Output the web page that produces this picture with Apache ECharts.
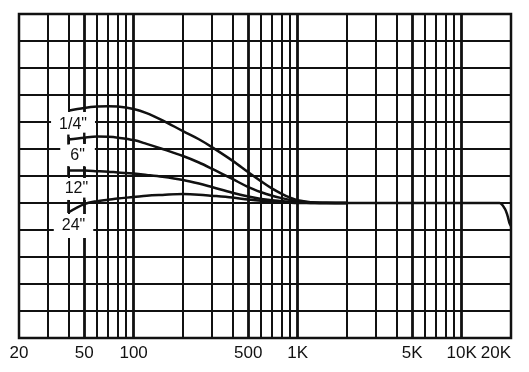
<!DOCTYPE html>
<html>
<head>
<meta charset="utf-8">
<script src="https://cdn.jsdelivr.net/npm/echarts@6/dist/echarts.min.js"></script>
<style>html,body{margin:0;padding:0;background:#fff}#c{width:529px;height:372px}</style>
</head>
<body>
<div id="c"></div>
<script>
// Frequencies (Hz) for the four curves
const freqHz = [40, 50, 60, 70, 80, 100, 120, 150, 200, 250, 300, 400, 500, 600, 700, 800, 900, 1000, 1200, 1500, 2000];
const quarterInch = [3.42, 3.52, 3.57, 3.58, 3.57, 3.48, 3.33, 3.06, 2.66, 2.36, 2.07, 1.57, 1.14, 0.80, 0.53, 0.34, 0.20, 0.10, 0.03, 0.01, 0];
const sixInch = [2.35, 2.42, 2.46, 2.45, 2.42, 2.33, 2.19, 2.00, 1.74, 1.50, 1.27, 0.89, 0.59, 0.40, 0.27, 0.18, 0.11, 0.06, 0.02, 0, 0];
const twelveInch = [1.20, 1.20, 1.18, 1.16, 1.13, 1.09, 1.04, 0.97, 0.85, 0.72, 0.59, 0.38, 0.24, 0.15, 0.10, 0.07, 0.04, 0.02, 0, 0, 0];
const twentyFourInch = [-0.35, -0.04, 0.07, 0.12, 0.17, 0.22, 0.27, 0.30, 0.33, 0.31, 0.27, 0.20, 0.13, 0.08, 0.05, 0.03, 0.01, 0, 0, 0, 0];
// Common flat part above 2 kHz
const flatFreqHz = [2000, 5000, 10000, 15000, 17000, 18300, 19000, 19600, 20000];
const flatValues = [0, 0, 0, 0, 0, -0.2, -0.45, -0.75, -0.85];
// Curve labels
const curveNames = ['1/4"', '6"', '12"', '24"'];
// Axis labels
const tickValues = [20, 50, 100, 500, 1000, 5000, 10000, 20000];
const tickLabels = ['20', '50', '100', '500', '1K', '5K', '10K', '20K'];
// Vertical grid frequencies
const gridFreqs = [30, 40, 50, 60, 70, 80, 90, 100, 200, 300, 400, 500, 600, 700, 800, 900, 1000, 2000, 3000, 4000, 5000, 6000, 7000, 8000, 9000, 10000];

const INK = '#111';
const FONT = 'Liberation Sans';

function curve(values, tickIdx, tickOffsets) {
  return freqHz.map((f, i) => {
    const item = { value: [f, values[i]] };
    const k = tickIdx.indexOf(i);
    if (k >= 0) {
      item.symbol = 'rect';
      item.symbolSize = [2.4, tickOffsets[k][0]];
      item.symbolOffset = [0, tickOffsets[k][1]];
    } else {
      item.symbol = 'none';
    }
    return item;
  });
}

const lineSeries = (data) => ({
  type: 'line', data, z: 5, smooth: 0.35, symbol: 'none',
  lineStyle: { color: INK, width: 2.5 },
  itemStyle: { color: INK },
  emphasis: { disabled: true }, silent: true, animation: false
});

const labelPos = [[42.7, 2.907, [4, 8, 4, 8]], [45.5, 1.759, [3, 10, 3, 10]], [44.8, 0.519, [3, 4, 2, 4]], [43.0, -0.852, [4, 8, 3, 8]]];

const option = {
  animation: false,
  backgroundColor: '#fff',
  grid: { left: 19, right: 18, top: 14, bottom: 34, show: true, borderColor: INK, borderWidth: 2.5, backgroundColor: 'transparent' },
  xAxis: {
    type: 'log', logBase: 10, min: 20, max: 20000,
    axisLine: { show: false }, axisTick: { show: false }, splitLine: { show: false }, minorSplitLine: { show: false },
    axisLabel: {
      customValues: tickValues,
      formatter: (v) => { const i = tickValues.findIndex(t => Math.abs(t - v) / t < 1e-6); return i >= 0 ? tickLabels[i] : ''; },
      color: INK, fontFamily: FONT, fontSize: 17, margin: 7,
      alignMaxLabel: 'right', alignMinLabel: 'center', showMinLabel: true, showMaxLabel: true
    }
  },
  yAxis: {
    type: 'value', min: -5, max: 7, interval: 1,
    axisLine: { show: false }, axisTick: { show: false }, axisLabel: { show: false },
    splitLine: { show: true, lineStyle: { color: INK, width: 2 } }
  },
  series: [
    {
      type: 'line', data: [], z: 1, silent: true,
      markLine: {
        z: 1, silent: true, symbol: 'none', animation: false,
        label: { show: false },
        data: gridFreqs.map(f => ({ xAxis: f, lineStyle: { color: INK, type: 'solid', width: tickValues.includes(f) ? 2.8 : 2 } }))
      }
    },
    {
      type: 'scatter', z: 3, symbolSize: 0, silent: true,
      itemStyle: { color: '#fff', opacity: 1 },
      data: curveNames.map((n, i) => ({ name: n, value: [labelPos[i][0], labelPos[i][1]],
        label: { padding: labelPos[i][2] } })),
      label: { show: true, position: 'inside', formatter: '{b}', color: INK, fontFamily: FONT, fontSize: 16, lineHeight: 17,
        backgroundColor: '#fff', textBorderWidth: 0, textBorderColor: 'transparent', opacity: 1 },
      labelLayout: { hideOverlap: false }
    },
    lineSeries(curve(quarterInch, [], [])),
    lineSeries(curve(sixInch, [0, 1], [[10, 0], [10, 0]])),
    lineSeries(curve(twelveInch, [0, 1], [[9, 0], [9, 0]])),
    lineSeries(curve(twentyFourInch, [0, 1], [[13, -6], [9, -2]])),
    lineSeries(flatFreqHz.map((f, i) => [f, flatValues[i]]))
  ]
};

const chart = echarts.init(document.getElementById('c'), null, { renderer: 'canvas' });
chart.setOption(option);
</script>
</body>
</html>
